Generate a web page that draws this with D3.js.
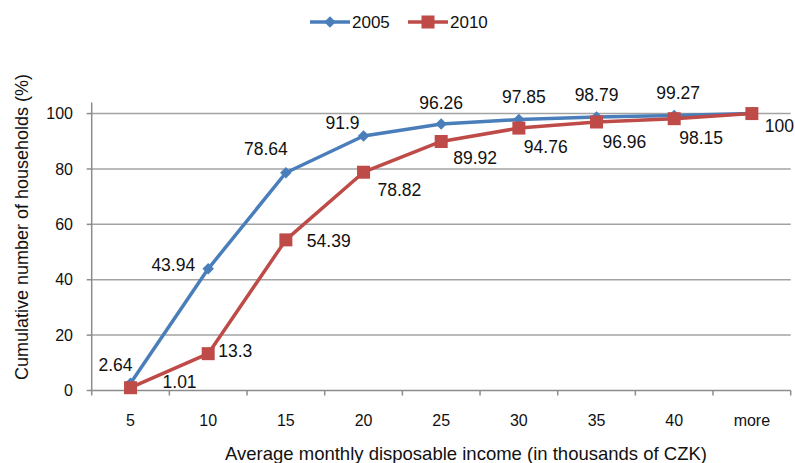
<!DOCTYPE html>
<html>
<head>
<meta charset="utf-8">
<script src="https://cdn.jsdelivr.net/npm/d3@7"></script>
<style>
  body { margin: 0; background: #fff; }
  text { font-family: "Liberation Sans", Arial, sans-serif; fill: #111; }
</style>
</head>
<body>
<div id="chart"></div>
<script>
// Daten
const categories = ["5", "10", "15", "20", "25", "30", "35", "40", "more"];
const values2005 = [2.64, 43.94, 78.64, 91.9, 96.26, 97.85, 98.79, 99.27, 100];
const values2010 = [1.01, 13.3, 54.39, 78.82, 89.92, 94.76, 96.96, 98.15, 100];
const yTicks = [0, 20, 40, 60, 80, 100];

// Beschriftungs-Versatz je Punkt (dx, dy, anchor) - nur Layout
const off2005 = [[-15, -18, "middle"], [-13, -4, "end"], [-20, -24, "middle"], [-21, -13, "middle"],
                 [0, -21, "middle"], [5, -23, "middle"], [0, -22, "middle"], [4, -23, "middle"], null];
const off2010 = [[32, -6, "start"], [10, -3, "start"], [21, 1, "start"], [14, 17, "start"],
                 [12, 16, "start"], [5, 19, "start"], [6, 20, "start"], [5, 19, "start"], [13, 12, "start"]];

const width = 795, height = 463;
const blue = "#4A7EBB", red = "#BE4B48";

const svg = d3.select("#chart").append("svg")
  .attr("width", width)
  .attr("height", height);

const x = d3.scaleBand().domain(categories).range([91.7, 790.7]).padding(0);
const y = d3.scaleLinear().domain([0, 104]).range([390.5, 102.5]);

// Gitterlinien
svg.append("g").selectAll("line")
  .data(yTicks.filter(d => d > 0))
  .enter().append("line")
  .attr("x1", x.range()[0]).attr("x2", x.range()[1])
  .attr("y1", d => y(d)).attr("y2", d => y(d))
  .attr("stroke", "#a3a3a3").attr("stroke-width", 1.5);

// Y-Achse
svg.append("line")
  .attr("x1", x.range()[0]).attr("x2", x.range()[0])
  .attr("y1", y(104)).attr("y2", y(0))
  .attr("stroke", "#8c8c8c").attr("stroke-width", 1.5);

svg.append("g").selectAll("line")
  .data(yTicks)
  .enter().append("line")
  .attr("x1", x.range()[0] - 5).attr("x2", x.range()[0])
  .attr("y1", d => y(d)).attr("y2", d => y(d))
  .attr("stroke", "#8c8c8c").attr("stroke-width", 1.5);

svg.append("g").selectAll("text")
  .data(yTicks)
  .enter().append("text")
  .attr("x", 73)
  .attr("y", d => y(d))
  .attr("dy", "0.36em")
  .attr("text-anchor", "end")
  .style("font-size", "16px")
  .text(d => d);

// X-Achse
svg.append("line")
  .attr("x1", x.range()[0]).attr("x2", x.range()[1])
  .attr("y1", y(0)).attr("y2", y(0))
  .attr("stroke", "#8c8c8c").attr("stroke-width", 1.5);

svg.append("g").selectAll("line")
  .data(d3.range(categories.length + 1))
  .enter().append("line")
  .attr("x1", i => x.range()[0] + i * x.step())
  .attr("x2", i => x.range()[0] + i * x.step())
  .attr("y1", y(0)).attr("y2", y(0) + 5)
  .attr("stroke", "#8c8c8c").attr("stroke-width", 1.5);

svg.append("g").selectAll("text")
  .data(categories)
  .enter().append("text")
  .attr("x", d => x(d) + x.bandwidth() / 2)
  .attr("y", 420)
  .attr("dy", "0.36em")
  .attr("text-anchor", "middle")
  .style("font-size", "16px")
  .text(d => d);

// Achsentitel
svg.append("text")
  .attr("x", 466).attr("y", 453)
  .attr("dy", "0.36em")
  .attr("text-anchor", "middle")
  .style("font-size", "18.5px")
  .text("Average monthly  disposable income (in thousands of CZK)");

svg.append("text")
  .attr("transform", "translate(22, 227) rotate(-90)")
  .attr("dy", "0.36em")
  .attr("text-anchor", "middle")
  .style("font-size", "18px")
  .text("Cumulative number of households  (%)");

// Linien
const cx = (d, i) => x(categories[i]) + x.bandwidth() / 2;
const line = d3.line().x(cx).y(d => y(d));

function drawSeries(vals, color, marker, offsets) {
  const g = svg.append("g");
  g.append("path")
    .datum(vals)
    .attr("d", line)
    .attr("fill", "none")
    .attr("stroke", color)
    .attr("stroke-width", 3.5)
    .attr("stroke-linejoin", "round");

  if (marker === "diamond") {
    g.selectAll("path.m").data(vals).enter().append("path")
      .attr("class", "m")
      .attr("d", d3.symbol().type(d3.symbolDiamond2).size(85))
      .attr("transform", (d, i) => `translate(${cx(d, i)},${y(d)})`)
      .attr("fill", color);
  } else {
    g.selectAll("rect.m").data(vals).enter().append("rect")
      .attr("class", "m")
      .attr("x", (d, i) => cx(d, i) - 6.5)
      .attr("y", d => y(d) - 6.5)
      .attr("width", 13).attr("height", 13)
      .attr("fill", color);
  }

  g.selectAll("text").data(vals).enter()
    .filter((d, i) => offsets[i] !== null)
    .append("text")
    .attr("x", (d, i) => cx(d, i) + offsets[i][0])
    .attr("y", (d, i) => y(d) + offsets[i][1])
    .attr("dy", "0.36em")
    .attr("text-anchor", (d, i) => offsets[i][2])
    .style("font-size", "17.5px")
    .text(d => d);
}

drawSeries(values2005, blue, "diamond", off2005);
drawSeries(values2010, red, "square", off2010);

// Legende
const legend = [
  { name: "2005", color: blue, marker: "diamond", x: 310 },
  { name: "2010", color: red, marker: "square", x: 408 }
];
const lg = svg.append("g").selectAll("g").data(legend).enter().append("g")
  .attr("transform", d => `translate(${d.x}, 22)`);
lg.append("line").attr("x1", 0).attr("x2", 40).attr("y1", 0).attr("y2", 0)
  .attr("stroke", d => d.color).attr("stroke-width", 3.5);
lg.filter(d => d.marker === "diamond").append("path")
  .attr("d", d3.symbol().type(d3.symbolDiamond2).size(85))
  .attr("transform", "translate(20,0)")
  .attr("fill", d => d.color);
lg.filter(d => d.marker === "square").append("rect")
  .attr("x", 13.5).attr("y", -6.5).attr("width", 13).attr("height", 13)
  .attr("fill", d => d.color);
lg.append("text")
  .attr("x", 42).attr("y", 0).attr("dy", "0.36em")
  .style("font-size", "17px")
  .text(d => d.name);
</script>
</body>
</html>
